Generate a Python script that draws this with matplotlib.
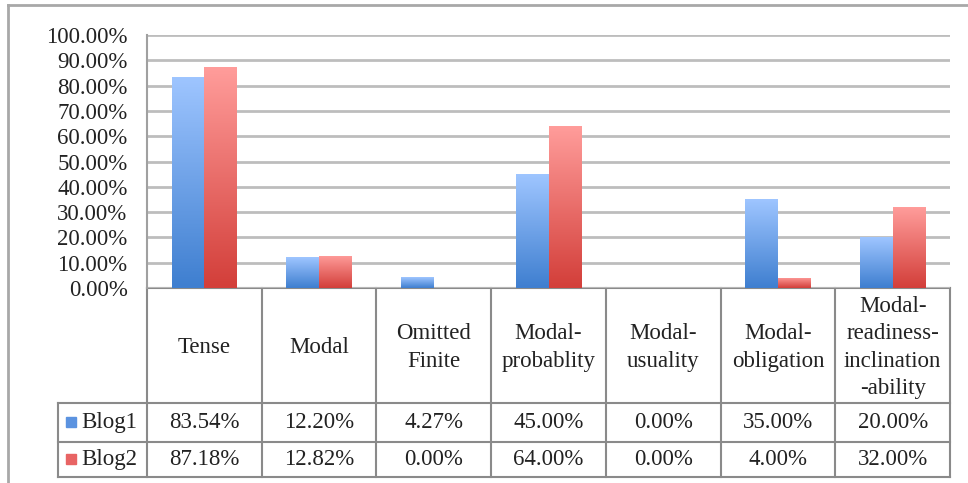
import numpy as np
import matplotlib
matplotlib.use('Agg')
import matplotlib.pyplot as plt
from matplotlib.colors import LinearSegmentedColormap

# chart data
categories = ['Tense', 'Modal', 'Omitted\nFinite', 'Modal-\nprobablity', 'Modal-\nusuality',
              'Modal-\nobligation', 'Modal-\nreadiness-\ninclination\n-ability']
series_names = ['Blog1', 'Blog2']
blog1 = [83.54, 12.20, 4.27, 45.00, 0.00, 35.00, 20.00]
blog2 = [87.18, 12.82, 0.00, 64.00, 0.00, 4.00, 32.00]
yticks = [0, 10, 20, 30, 40, 50, 60, 70, 80, 90, 100]

plt.rcParams['font.family'] = ['Liberation Serif', 'DejaVu Serif']
FS = 16.5
TC = '#222222'
W, H = 968, 483
fig = plt.figure(figsize=(W / 100, H / 100), dpi=100)

# overlay in pixel coordinates for frame and data table
bg = fig.add_axes([0, 0, 1, 1])
bg.set_xlim(0, W)
bg.set_ylim(H, 0)
bg.axis('off')

# plot area position (pixels)
px0, px1, py_top, py0 = 147, 950, 35, 288
ax = fig.add_axes([px0 / W, (H - py0) / H, (px1 - px0) / W, (py0 - py_top) / H])
ax.patch.set_alpha(0)

n = len(categories)
x = np.arange(n)
bw = 1 / 3.5
cmaps = [LinearSegmentedColormap.from_list('b', ['#3f7fd0', '#9ec5ff']),
         LinearSegmentedColormap.from_list('r', ['#d33f3a', '#ff9c9a'])]
grad = np.linspace(0, 1, 64).reshape(-1, 1)[::-1]
for i, vals in enumerate([blog1, blog2]):
    bars = ax.bar(x + (i - 0.5) * bw, vals, bw, color='none', edgecolor='none', zorder=3)
    for b in bars:
        h = b.get_height()
        if h <= 0:
            continue
        bx, by = b.get_x(), b.get_y()
        im = ax.imshow(grad, extent=[bx, bx + b.get_width(), by, by + h], cmap=cmaps[i],
                       aspect='auto', interpolation='bilinear', zorder=3)
        im.set_clip_path(b)

ax.set_xlim(-0.5, n - 0.5)
ax.set_ylim(0, 100)
ax.set_yticks(yticks)
ax.set_yticklabels(['%.2f%%' % v for v in yticks], fontsize=FS, color=TC)
ax.set_xticks([])
ax.tick_params(axis='y', length=0, pad=14)
ax.yaxis.grid(True, color='#bdbdbd', linewidth=2, zorder=0)
for s in ['top', 'right', 'bottom']:
    ax.spines[s].set_visible(False)
ax.spines['left'].set_color('#a0a0a0')
ax.spines['left'].set_linewidth(1.5)

# outer chart frame
bg.plot([8, W], [5, 5], color='#a8a8a8', lw=2)
bg.plot([8, 8], [5, H], color='#a8a8a8', lw=2)

# data table
lc = '#8a8a8a'
lw = 1.5
colw = (px1 - px0) / n
row_top, row1, row2, row_bot = py0, 403, 442, 477
leg_x = 58
bg.plot([px0, px1], [row_top, row_top], color=lc, lw=lw)
bg.plot([leg_x, px1], [row1, row1], color=lc, lw=lw)
bg.plot([leg_x, px1], [row2, row2], color=lc, lw=lw)
bg.plot([leg_x, px1], [row_bot, row_bot], color=lc, lw=lw)
bg.plot([leg_x, leg_x], [row1, row_bot], color=lc, lw=lw)
for j in range(n + 1):
    bg.plot([px0 + j * colw] * 2, [row_top, row_bot], color=lc, lw=lw)

for j, cat in enumerate(categories):
    cx = px0 + (j + 0.5) * colw
    bg.text(cx, (row_top + row1) / 2 + 2, cat, ha='center', va='center', fontsize=FS,
            color=TC, linespacing=1.4)
    bg.text(cx, (row1 + row2) / 2, '%.2f%%' % blog1[j], ha='center', va='center',
            fontsize=FS, color=TC)
    bg.text(cx, (row2 + row_bot) / 2, '%.2f%%' % blog2[j], ha='center', va='center',
            fontsize=FS, color=TC)

for k, (name, col) in enumerate(zip(series_names, ['#5b93e0', '#e86464'])):
    cy = (row1 + row2) / 2 if k == 0 else (row2 + row_bot) / 2
    bg.add_patch(plt.Rectangle((66, cy - 6), 10, 10, color=col))
    bg.text(81, cy, name, ha='left', va='center', fontsize=FS, color=TC)

fig.savefig('out.png', dpi=100)
